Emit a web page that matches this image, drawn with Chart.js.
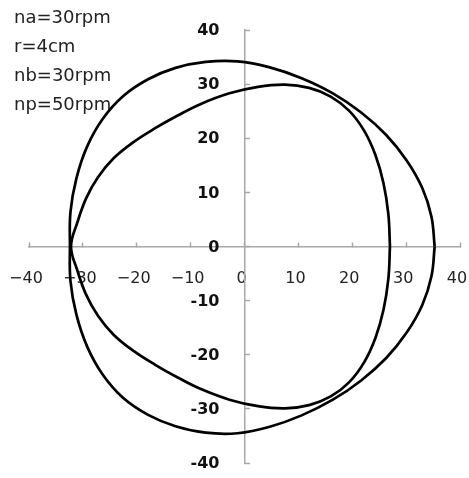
<!DOCTYPE html>
<html>
<head>
<meta charset="utf-8">
<script src="https://cdn.jsdelivr.net/npm/chart.js@4/dist/chart.umd.min.js"></script>
<style>
  html, body { margin: 0; padding: 0; background: #ffffff; }
  #wrap { width: 469px; height: 478px; position: relative; }
</style>
</head>
<body>
<div id="wrap"><canvas id="chart" width="469" height="478"></canvas></div>
<script>
// Axis ticks (cm)
const xTicks = [-40, -30, -20, -10, 0, 10, 20, 30, 40];
const yTicks = [-40, -30, -20, -10, 0, 10, 20, 30, 40];

// Operating parameters shown in the corner
const paramLines = ['na=30rpm', 'r=4cm', 'nb=30rpm', 'np=50rpm'];

// Outer, nearly circular trajectory (closed loop)
const outerX = [35.3, 34.7, 33.0, 30.1, 26.3, 21.6, 16.4, 10.6, 4.7, -1.3, -7.2, -12.8, -17.9, -22.5, -26.3, -29.2, -31.2, -32.3, -32.4,
                -32.3, -31.2, -29.2, -26.3, -22.5, -17.9, -12.8, -7.2, -1.3, 4.7, 10.6, 16.4, 21.6, 26.3, 30.1, 33.0, 34.7, 35.3];
const outerY = [0, 5.5, 10.8, 15.9, 20.6, 24.8, 28.3, 31.1, 33.1, 34.2, 34.1, 33.0, 30.9, 27.8, 23.6, 18.5, 12.6, 6.4, 0,
                -6.4, -12.6, -18.5, -23.7, -28.0, -31.1, -33.2, -34.4, -34.5, -33.3, -31.2, -28.3, -24.8, -20.6, -15.9, -10.8, -5.5, 0];

// Inner, rounded-triangle trajectory (closed loop)
const innerX = [27.0, 26.7, 25.8, 24.3, 22.2, 19.4, 16.0, 12.0, 7.5, 2.5, -2.8, -8.2, -12.4, -16.5, -20.6, -24.3, -27.2, -29.4, -31.0, -32.2,
                -31.0, -29.4, -27.2, -24.3, -20.6, -16.5, -12.4, -8.2, -2.8, 2.5, 7.5, 12.0, 16.0, 19.4, 22.2, 24.3, 25.8, 26.7, 27.0];
const innerY = [0, 6.0, 11.7, 16.9, 21.4, 25.1, 27.7, 29.3, 29.9, 29.5, 28.3, 26.3, 24.2, 21.9, 19.3, 16.3, 12.8, 8.9, 4.5, 0,
                -4.5, -8.9, -12.8, -16.3, -19.3, -21.9, -24.2, -26.3, -28.3, -29.5, -29.9, -29.3, -27.7, -25.1, -21.4, -16.9, -11.7, -6.0, 0];

const toPoints = (xs, ys) => xs.map((x, i) => ({ x: x, y: ys[i] }));

const axisGrey = '#a8a8a8';

// Corner text block
const paramText = {
  id: 'paramText',
  beforeDatasetsDraw(chart) {
    const ctx = chart.ctx;
    ctx.save();
    ctx.font = '18px "DejaVu Sans"';
    ctx.fillStyle = '#222222';
    ctx.textAlign = 'left';
    ctx.textBaseline = 'middle';
    paramLines.forEach((t, i) => ctx.fillText(t, 14, 18 + i * 29));
    ctx.restore();
  }
};

// Vertical-axis labels, set off to the left of the centred y axis
const yAxisLabels = {
  id: 'yAxisLabels',
  afterDraw(chart) {
    const ys = chart.scales.y, xs = chart.scales.x;
    const ctx = chart.ctx;
    const right = xs.getPixelForValue(0) - 25;
    ctx.save();
    ctx.font = 'bold 16px "DejaVu Sans"';
    ctx.fillStyle = '#111111';
    ctx.textAlign = 'right';
    ctx.textBaseline = 'middle';
    ys.ticks.forEach(t => ctx.fillText(String(t.value), right, ys.getPixelForValue(t.value) + 1));
    ctx.restore();
  }
};

const zeroPadding = (s) => { s.paddingLeft = 0; s.paddingRight = 0; s.paddingTop = 0; s.paddingBottom = 0; };

const lineStyle = {
  showLine: true,
  borderColor: '#000000',
  borderWidth: 2.7,
  pointRadius: 0,
  pointHoverRadius: 0,
  fill: false,
  tension: 0.4
};

new Chart(document.getElementById('chart'), {
  type: 'scatter',
  data: {
    datasets: [
      Object.assign({ label: 'outer', data: toPoints(outerX, outerY) }, lineStyle),
      Object.assign({ label: 'inner', data: toPoints(innerX, innerY) }, lineStyle)
    ]
  },
  options: {
    responsive: false,
    devicePixelRatio: 1,
    animation: false,
    layout: { padding: { left: 29, right: 9, top: 30, bottom: 15 } },
    plugins: { legend: { display: false }, tooltip: { enabled: false } },
    scales: {
      x: {
        type: 'linear',
        position: { y: 0 },
        min: -40, max: 40,
        afterBuildTicks: (s) => { s.ticks = xTicks.map(v => ({ value: v })); },
        afterFit: (s) => { s.height = 0; zeroPadding(s); },
        grid: { display: true, drawOnChartArea: false, drawTicks: true, tickLength: -5, color: axisGrey, tickWidth: 1.5 },
        border: { display: true, color: axisGrey, width: 1.5 },
        ticks: {
          padding: 28,
          labelOffset: -3,
          color: '#222222',
          font: { family: '"DejaVu Sans"', size: 16 },
          maxRotation: 0,
          autoSkip: false,
          callback: (v) => (v < 0 ? '\u2212' + Math.abs(v) : String(v))
        }
      },
      y: {
        type: 'linear',
        position: { x: 0 },
        min: -40, max: 40,
        afterBuildTicks: (s) => { s.ticks = yTicks.map(v => ({ value: v })); },
        afterFit: (s) => { s.width = 0; zeroPadding(s); },
        grid: { display: true, drawOnChartArea: false, drawTicks: true, tickLength: -6, color: axisGrey, tickWidth: 1.5 },
        border: { display: true, color: axisGrey, width: 1.5 },
        ticks: { display: false }
      }
    }
  },
  plugins: [paramText, yAxisLabels]
});
</script>
</body>
</html>
